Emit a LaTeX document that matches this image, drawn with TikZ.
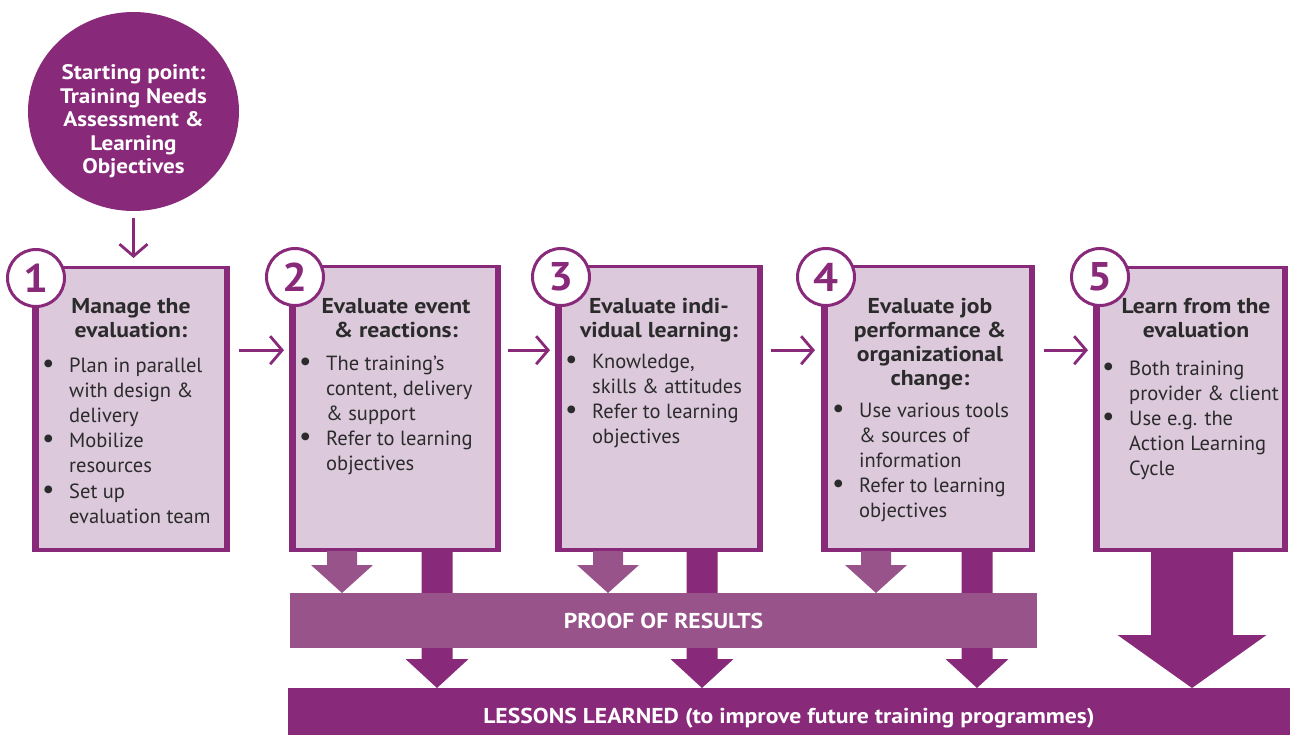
\documentclass[tikz,border=0pt]{standalone}
\usepackage{fontspec}
\setmainfont{PT Sans}[BoldFeatures={FakeStretch=1.1}]
\usetikzlibrary{arrows.meta,shapes.geometric,calc}
\definecolor{dp}{HTML}{88297A}
\definecolor{lp}{HTML}{98538B}
\definecolor{bf}{HTML}{DCC9DC}
\definecolor{tx}{HTML}{2B2B2B}
\newlength\bw \setlength\bw{18pt}
\newcommand\bli[1]{\makebox[\bw][l]{\hspace*{-9pt}\scalebox{1.35}{\textbullet}}#1}
\newcommand\cnt[1]{\hspace*{\bw}#1}
\newcommand\bodyfont{\fontsize{20.5}{25.2}\selectfont}
\newcommand\titlefont{\fontsize{21.5}{24.5}\selectfont\bfseries}
% block arrow: color, cx, ytop, yhead, ytip, half shaft, half head
\newcommand\blockarr[7]{%
  \fill[#1] (#2-#6,#3) -- (#2+#6,#3) -- (#2+#6,#4) -- (#2+#7,#4) -- (#2,#5)
    -- (#2-#7,#4) -- (#2-#6,#4) -- cycle;}
\begin{document}
\begin{tikzpicture}[x=1pt,y=-1pt,
  box/.style={fill=dp, inner sep=0pt, anchor=north west},
  numc/.style={circle, draw=dp, line width=3pt, fill=white, minimum size=57pt,
    inner sep=0pt, text=dp, font=\fontsize{40}{40}\selectfont\bfseries},
  ttl/.style={anchor=base, inner sep=0pt, text=tx},
  bul/.style={anchor=base west, inner sep=0pt, text=tx},
  thinarr/.style={draw=dp, line width=2.8pt, -{Straight Barb[length=12pt,width=28pt]}},
  bar/.style={inner sep=0pt, text=white, font=\fontsize{21.5}{24}\selectfont\bfseries}]
\useasboundingbox (0,0) rectangle (1290,735);

% starting point
\node[ellipse, fill=dp, minimum width=211pt, minimum height=199pt, inner sep=0pt] (start) at (133.5,111.5) {};
\node[anchor=base, inner sep=0pt, text=white] (starttxt) at (133.5,80)
  {\parbox[t]{190pt}{\centering\fontsize{21}{23.5}\selectfont\bfseries
   Starting point:\\Training Needs\\Assessment \&\\Learning\\Objectives}};

% boxes
\node[box, minimum width=198pt, minimum height=286pt] (b1) at (32,266) {};
\node[box, minimum width=212pt, minimum height=287pt] (b2) at (289,265) {};
\node[box, minimum width=208pt, minimum height=287pt] (b3) at (555,265) {};
\node[box, minimum width=214pt, minimum height=287pt] (b4) at (821,265) {};
\node[box, minimum width=195pt, minimum height=286pt] (b5) at (1093,266) {};
\foreach \b in {b1,b2,b3,b4,b5}
  \fill[bf] ([shift={(7,3)}]\b.north west) rectangle ([shift={(-6,-4)}]\b.south east);

% titles
\node[ttl] (t1) at (131,313) {\parbox[t]{190pt}{\centering\titlefont Manage the\\evaluation:}};
\node[ttl] (t2) at (396,313) {\parbox[t]{200pt}{\centering\titlefont Evaluate event\\\& reactions:}};
\node[ttl] (t3) at (659,313) {\parbox[t]{200pt}{\centering\titlefont Evaluate indi-\\vidual learning:}};
\node[ttl] (t4) at (930,313) {\parbox[t]{200pt}{\centering\fontsize{21.5}{24.2}\selectfont\bfseries Evaluate job\\performance \&\\organizational\\change:}};
\node[ttl] (t5) at (1196,313) {\parbox[t]{190pt}{\centering\titlefont Learn from the\\evaluation}};

% bullets
\node[bul] (l1) at (51,372) {\parbox[t]{190pt}{\bodyfont
  \bli{Plan in parallel}\\\cnt{with design \&}\\\cnt{delivery}\\\bli{Mobilize}\\\cnt{resources}\\\bli{Set up}\\\cnt{evaluation team}}};
\node[bul] (l2) at (308,370) {\parbox[t]{200pt}{\bodyfont
  \bli{The training’s}\\\cnt{content, delivery}\\\cnt{\& support}\\\bli{Refer to learning}\\\cnt{objectives}}};
\node[bul] (l3) at (574,368) {\parbox[t]{200pt}{\bodyfont
  \bli{Knowledge,}\\\cnt{skills \& attitudes}\\\bli{Refer to learning}\\\cnt{objectives}}};
\node[bul] (l4) at (841,417) {\parbox[t]{200pt}{\bodyfont
  \bli{Use various tools}\\\cnt{\& sources of}\\\cnt{information}\\\bli{Refer to learning}\\\cnt{objectives}}};
\node[bul] (l5) at (1111,375) {\parbox[t]{190pt}{\bodyfont
  \bli{Both training}\\\cnt{provider \& client}\\\bli{Use e.g. the}\\\cnt{Action Learning}\\\cnt{Cycle}}};

% number circles
\node[numc] (n1) at (36,278) {1};
\node[numc] (n2) at (295,277) {2};
\node[numc] (n3) at (561,277) {3};
\node[numc] (n4) at (826,277) {4};
\node[numc] (n5) at (1100,277) {5};

% thin arrows
\draw[thinarr, shorten <=7pt, shorten >=8pt] (start.south) -- (start.south |- b1.north);
\draw[thinarr, shorten <=9pt, shorten >=5pt] ([yshift=59pt]b1.east) -- ([yshift=59pt]b1.east -| b2.west);
\draw[thinarr, shorten <=7pt, shorten >=5pt] ([yshift=58.5pt]b2.east) -- ([yshift=58.5pt]b2.east -| b3.west);
\draw[thinarr, shorten <=8pt, shorten >=6pt] ([yshift=58.5pt]b3.east) -- ([yshift=58.5pt]b3.east -| b4.west);
\draw[thinarr, shorten <=9pt, shorten >=5pt] ([yshift=58.5pt]b4.east) -- ([yshift=58.5pt]b4.east -| b5.west);

% block arrows
\blockarr{dp}{437}{551}{659}{688}{15.5}{31.5}
\blockarr{dp}{702}{551}{659}{688}{15.5}{31.5}
\blockarr{dp}{977}{551}{659}{688}{15.5}{31.5}
\blockarr{lp}{342}{551}{565}{593}{15}{31}
\blockarr{lp}{608}{551}{565}{593}{15}{31}
\blockarr{lp}{876}{551}{565}{593}{15}{31}
\blockarr{dp}{1192}{551}{635}{688}{41}{74.5}

% bars
\node[bar, fill=lp, minimum width=747pt, minimum height=55pt] (proof) at (663.5,620.5) {\raisebox{-2pt}{PROOF OF RESULTS}};
\node[bar, fill=dp, minimum width=1002pt, minimum height=61pt] (lessons) at (789,718.5)
  {LESSONS LEARNED (to improve future training programmes)};
\end{tikzpicture}
\end{document}
